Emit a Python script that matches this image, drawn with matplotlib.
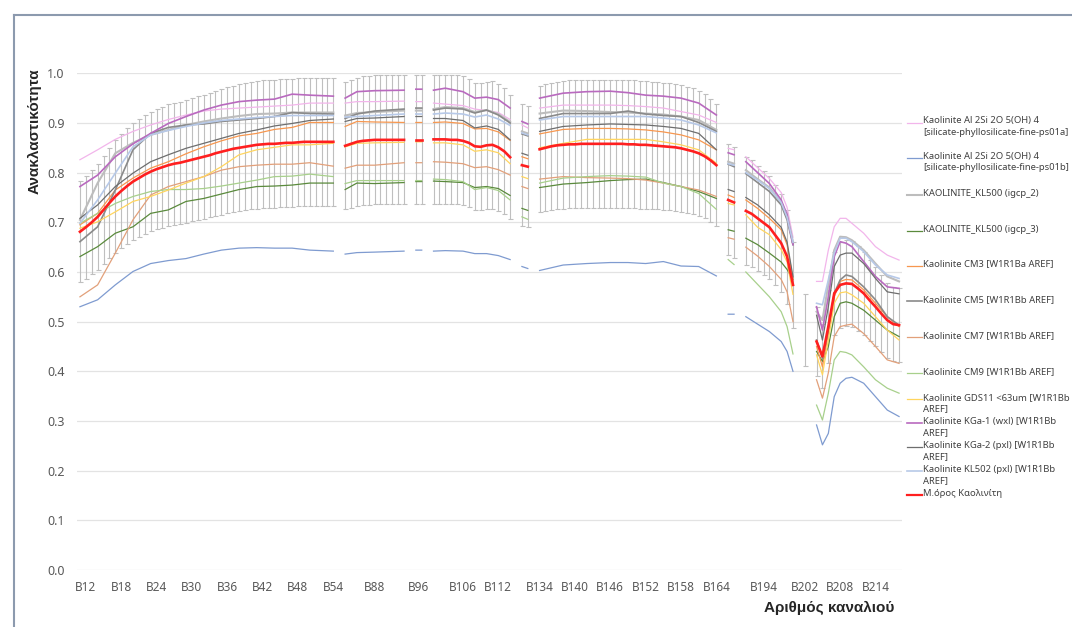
import numpy as np
import matplotlib
matplotlib.use('Agg')
import matplotlib.pyplot as plt

plt.rcParams['font.family'] = ['Noto Sans', 'DejaVu Sans']

# ---------------- data ----------------
# sampled category positions (band slots), split into the visible segments
seg_sizes = [15, 4, 2, 7, 2, 10, 2, 6, 11]
x_pts = [0, 3, 6, 9, 12, 15, 18, 21, 24, 27, 30, 33, 36, 39, 43,
         45, 47, 50, 55,
         57, 58,
         60, 62, 65, 67, 69, 71, 73,
         75, 76,
         78, 82, 86, 90, 93, 96, 99, 102, 105, 108,
         110, 111,
         113, 115, 117, 119, 120, 121,
         125, 126, 127, 128, 129, 130, 131, 133, 135, 137, 139]

ps01a = [.826, .846, .867, .883, .896, .907, .916, .924, .928, .930, .932, .934, .936, .940, .940,
         .940, .943, .943, .944,
         .943, .943,
         .940, .938, .935, .928, .925, .921, .907,
         .896, .890,
         .930, .936, .936, .936, .935, .933, .930, .923, .916, .901,
         .849, .846,
         .832, .810, .788, .760, .730, .670,
         .581, .581, .644, .691, .708, .708, .698, .678, .651, .634, .624]
ps01b = [.530, .544, .574, .601, .617, .623, .627, .636, .644, .648, .649, .648, .648, .644, .642,
         .636, .639, .640, .642,
         .644, .644,
         .642, .643, .642, .637, .637, .633, .625,
         .611, .607,
         .603, .614, .617, .619, .619, .617, .621, .612, .611, .592,
         .515, .515,
         .510, .495, .480, .460, .440, .400,
         .292, .252, .275, .349, .376, .386, .388, .376, .349, .322, .309]
igcp_2 = [.705, .779, .839, .860, .876, .886, .896, .903, .909, .914, .918, .919, .921, .921, .921,
          .915, .920, .922, .925,
          .925, .925,
          .928, .932, .930, .922, .926, .918, .902,
          .883, .879,
          .919, .925, .924, .922, .921, .919, .917, .913, .906, .886,
          .822, .818,
          .805, .787, .770, .740, .715, .660,
          .520, .503, .575, .644, .671, .670, .664, .644, .617, .591, .581]
igcp_3 = [.631, .651, .678, .691, .718, .725, .742, .748, .757, .766, .772, .773, .775, .779, .779,
          .766, .779, .778, .780,
          .782, .782,
          .783, .782, .780, .770, .772, .768, .754,
          .728, .724,
          .770, .777, .780, .784, .786, .787, .780, .772, .762, .748,
          .685, .682,
          .668, .655, .638, .620, .605, .585,
          .440, .420, .450, .510, .537, .540, .537, .523, .503, .483, .470]
cm3 = [.695, .718, .765, .789, .809, .822, .838, .852, .864, .874, .879, .887, .891, .901, .901,
       .893, .903, .902, .901,
       .901, .901,
       .901, .902, .899, .888, .889, .882, .865,
       .832, .828,
       .878, .887, .889, .889, .888, .886, .882, .876, .866, .846,
       .755, .750,
       .745, .728, .708, .685, .655, .585,
       .450, .409, .476, .550, .581, .585, .584, .564, .537, .510, .490]
cm5 = [.661, .691, .765, .846, .879, .891, .896, .898, .903, .906, .909, .913, .921, .919, .918,
       .909, .918, .924, .928,
       .930, .930,
       .926, .930, .928, .920, .926, .916, .900,
       .878, .874,
       .909, .919, .919, .919, .924, .918, .915, .913, .901, .883,
       .817, .812,
       .798, .780, .762, .735, .705, .655,
       .463, .426, .483, .557, .584, .594, .591, .570, .544, .510, .493]
cm7 = [.550, .574, .638, .705, .755, .772, .782, .792, .805, .812, .815, .817, .817, .820, .813,
       .809, .815, .815, .820,
       .820, .820,
       .822, .821, .818, .810, .812, .806, .795,
       .772, .768,
       .787, .792, .790, .789, .788, .785, .779, .772, .765, .752,
       .669, .666,
       .650, .632, .611, .585, .560, .500,
       .383, .346, .397, .470, .490, .493, .495, .476, .450, .423, .416]
cm9 = [.698, .718, .738, .752, .762, .766, .766, .768, .773, .779, .785, .792, .793, .797, .792,
       .778, .784, .784, .784,
       .784, .784,
       .787, .786, .782, .766, .770, .764, .745,
       .711, .706,
       .779, .789, .792, .794, .793, .791, .779, .772, .758, .726,
       .625, .615,
       .600, .575, .550, .520, .490, .435,
       .332, .302, .356, .423, .440, .438, .433, .409, .383, .366, .356]
gds11 = [.688, .701, .721, .742, .752, .765, .779, .792, .812, .836, .846, .851, .856, .856, .859,
         .852, .859, .860, .861,
         .862, .862,
         .860, .860, .856, .843, .846, .840, .818,
         .792, .788,
         .850, .859, .867, .867, .867, .867, .862, .856, .846, .819,
         .738, .735,
         .715, .690, .675, .645, .620, .555,
         .433, .393, .463, .537, .558, .560, .554, .537, .510, .483, .463]
kga1 = [.772, .795, .832, .858, .879, .899, .913, .926, .936, .943, .946, .948, .958, .956, .954,
        .950, .963, .965, .966,
        .968, .968,
        .966, .970, .963, .950, .952, .947, .930,
        .903, .898,
        .950, .960, .963, .964, .961, .956, .954, .950, .940, .916,
        .840, .836,
        .822, .800, .778, .745, .715, .655,
        .530, .483, .550, .631, .661, .658, .651, .621, .591, .570, .567]
kga2 = [.708, .735, .772, .799, .822, .836, .849, .859, .869, .879, .886, .894, .899, .905, .908,
        .903, .909, .910, .913,
        .913, .913,
        .909, .909, .905, .890, .894, .887, .866,
        .839, .835,
        .883, .893, .896, .898, .897, .896, .893, .889, .879, .846,
        .766, .762,
        .750, .735, .715, .690, .660, .590,
        .513, .463, .530, .611, .634, .638, .638, .617, .587, .560, .556]
kl502 = [.698, .745, .799, .852, .876, .885, .893, .900, .905, .908, .911, .913, .915, .915, .915,
         .912, .913, .915, .918,
         .918, .918,
         .918, .920, .918, .912, .916, .908, .895,
         .880, .876,
         .906, .913, .913, .913, .913, .913, .910, .906, .896, .880,
         .818, .815,
         .800, .785, .768, .740, .710, .660,
         .537, .534, .584, .638, .668, .668, .661, .641, .614, .594, .587]

# mean line, one value per band slot, per segment (first slot of each segment)
mean_starts = [0, 45, 57, 60, 75, 78, 110, 113, 123, 125]
mean_segs = [
    [.681, .690, .700, .711, .725, .739, .752, .763, .773, .782, .789, .796, .802, .807, .811,
     .815, .818, .820, .823, .826, .829, .832, .835, .839, .842, .845, .848, .850, .852, .854,
     .856, .857, .858, .858, .859, .860, .860, .861, .862, .862, .862, .862, .862, .862],
    [.854, .858, .862, .864, .865, .866, .866, .866, .866, .866, .866],
    [.866, .866],
    [.867, .867, .867, .866, .866, .864, .860, .853, .852, .855, .856, .851, .843, .831],
    [.815, .812],
    [.847, .850, .853, .855, .856, .857, .857, .858, .858, .858, .858, .858, .858, .858, .858,
     .857, .857, .856, .856, .855, .854, .853, .852, .851, .849, .846, .843, .839, .833, .825, .815],
    [.745, .740],
    [.723, .717, .708, .699, .690, .674, .658, .631, .574],
    [.483],
    [.460, .430, .490, .557, .574, .577, .576, .567, .557, .543, .530, .516, .503, .495, .493],
]
err_pct = 0.15

tick_pos = [1, 7, 13, 19, 25, 31, 37, 43, 50, 57.5, 65, 71, 78, 84, 90, 96, 102, 108, 116, 123, 129, 135]
tick_lab = ['B12', 'B18', 'B24', 'B30', 'B36', 'B42', 'B48', 'B54', 'B88', 'B96', 'B106', 'B112',
            'B134', 'B140', 'B146', 'B152', 'B158', 'B164', 'B194', 'B202', 'B208', 'B214']

series = [
    ('Kaolinite Al 2Si 2O 5(OH) 4\n[silicate-phyllosilicate-fine-ps01a]', ps01a, '#F2B5EB', 0.9),
    ('Kaolinite Al 2Si 2O 5(OH) 4\n[silicate-phyllosilicate-fine-ps01b]', ps01b, '#7F9BD0', 0.9),
    ('KAOLINITE_KL500 (igcp_2)', igcp_2, '#BDBDBD', 1.5),
    ('KAOLINITE_KL500 (igcp_3)', igcp_3, '#5A8A3C', 0.9),
    ('Kaolinite CM3 [W1R1Ba AREF]', cm3, '#F7974F', 0.9),
    ('Kaolinite CM5 [W1R1Bb AREF]', cm5, '#8A8A8A', 1.2),
    ('Kaolinite CM7 [W1R1Bb AREF]', cm7, '#E2A07A', 0.9),
    ('Kaolinite CM9 [W1R1Bb AREF]', cm9, '#A8D08C', 0.9),
    ('Kaolinite GDS11 <63um [W1R1Bb\nAREF]', gds11, '#FFD55E', 0.9),
    ('Kaolinite KGa-1 (wxl) [W1R1Bb\nAREF]', kga1, '#B96ABF', 1.2),
    ('Kaolinite KGa-2 (pxl) [W1R1Bb\nAREF]', kga2, '#6E6E6E', 0.9),
    ('Kaolinite KL502 (pxl) [W1R1Bb\nAREF]', kl502, '#B7C9E8', 1.2),
]
mean_label = 'Μ.όρος Καολινίτη'
mean_color = '#FF1F1F'


def with_gaps(vals):
    out = []
    i = 0
    for n in seg_sizes:
        out.extend(vals[i:i + n])
        out.append(np.nan)
        i += n
    return np.array(out, dtype=float)


W, H = 1072, 627
fig = plt.figure(figsize=(W / 100, H / 100), dpi=100)
ax = fig.add_axes([77 / W, 1 - 570 / H, 825 / W, (570 - 73.3) / H])

xg = with_gaps(x_pts)

# error bars of the mean (percentage)
for st, seg in zip(mean_starts, mean_segs):
    mx = np.arange(st, st + len(seg))
    my = np.array(seg)
    ax.errorbar(mx, my, yerr=err_pct * my, fmt='none', ecolor='#BFBFBF',
                elinewidth=0.8, capsize=1.8, capthick=0.8, zorder=2)

for lab, vals, col, lw in series:
    ax.plot(xg, with_gaps(vals), color=col, lw=lw, zorder=3)

for st, seg in zip(mean_starts, mean_segs):
    if len(seg) > 1:
        ax.plot(np.arange(st, st + len(seg)), seg, color=mean_color, lw=1.9, zorder=4)

ax.set_xlim(-0.5, 139.5)
ax.set_ylim(0, 1.0)
ax.set_yticks(np.arange(0, 1.01, 0.1))
ax.set_yticklabels(['%.1f' % v for v in np.arange(0, 1.01, 0.1)])
ax.set_xticks(tick_pos)
ax.set_xticklabels(tick_lab)
ax.tick_params(axis='both', length=0, colors='#595959')
ax.tick_params(axis='y', pad=9, labelsize=9)
ax.tick_params(axis='x', pad=8, labelsize=8.5)
ax.grid(axis='y', color='#E3E3E3', lw=0.9)
ax.set_axisbelow(True)
for s in ax.spines.values():
    s.set_visible(False)

bold_fam = ['Liberation Sans', 'DejaVu Sans']
fig.text(35 / W, 1 - 131 / H, 'Ανακλαστικότητα', rotation=90, ha='center', va='center',
         fontsize=11, fontweight='bold', color='#262626', family=bold_fam)
fig.text(829 / W, 1 - 608 / H, 'Αριθμός καναλιού', ha='center', va='center',
         fontsize=11, fontweight='bold', color='#262626', family=bold_fam)

# legend drawn by hand (uneven spacing as in the original)
leg_y = [122.7, 158, 195, 230.7, 265.7, 301, 337, 373, 399, 423, 447, 471, 495]
entries = [(lab, col, lw) for lab, _, col, lw in series] + [(mean_label, mean_color, 1.6)]
for (lab, col, lw), py in zip(entries, leg_y):
    yf = 1 - py / H
    fig.add_artist(plt.Line2D([907 / W, 922 / W], [yf, yf], color=col, lw=lw,
                              transform=fig.transFigure))
    fig.text(923 / W, 1 - (py - 6.2) / H, lab, ha='left', va='top', fontsize=6.8,
             color='#404040', linespacing=1.35)

# frame lines of the chart area
fig.add_artist(plt.Line2D([13.5 / W, 13.5 / W], [0, 1 - 15 / H], color='#8C9AAE', lw=1.5,
                          transform=fig.transFigure))
fig.add_artist(plt.Line2D([13.5 / W, 1], [1 - 15 / H, 1 - 15 / H], color='#8C9AAE', lw=1.5,
                          transform=fig.transFigure))

fig.savefig('out.png', dpi=100)
